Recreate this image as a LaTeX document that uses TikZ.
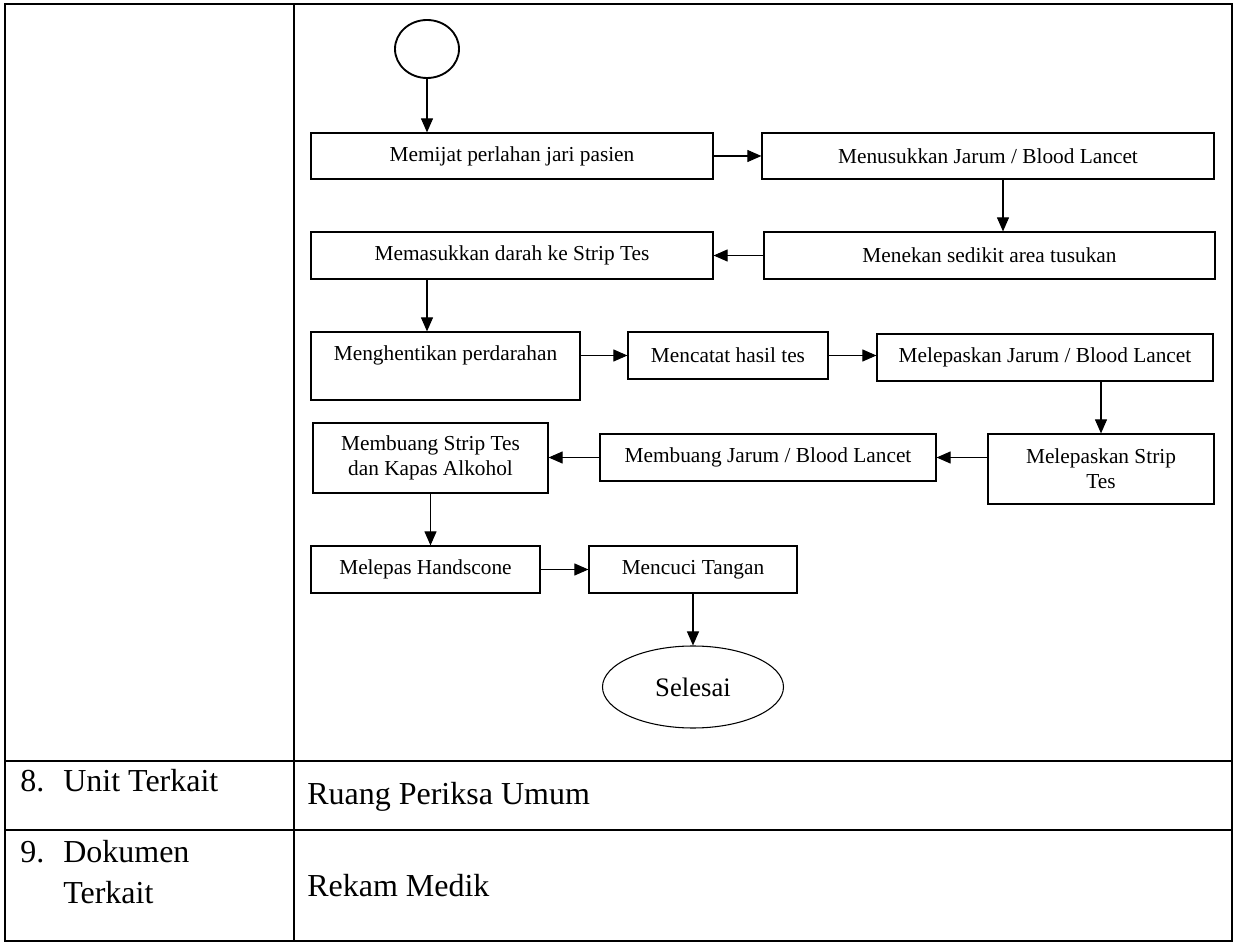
\documentclass[tikz,border=0pt]{standalone}
\usepackage{fontspec}
\setmainfont{Liberation Serif}
\usetikzlibrary{arrows.meta,calc,shapes.geometric}
\begin{document}
\begin{tikzpicture}[x=0.75pt,y=-0.75pt,
  box/.style 2 args={draw, line width=0.9pt, inner sep=0pt, align=center, minimum width=#1, minimum height=#2, font=\fontsize{16}{18.75}\selectfont},
  arr/.style={line width=0.8pt, -{Triangle[length=10.5pt,width=9pt]}},
  tbl/.style={line width=1.5pt},
  sep/.style={line width=2.2pt},
  ttext/.style={anchor=base west, inner sep=0pt, font=\fontsize{24}{30}\selectfont}
]
\useasboundingbox (0,0) rectangle (1236,944);
% table
\draw[tbl] (5,4) rectangle (1232,941);
\draw[tbl] (294,4) -- (294,941);
\draw[sep] (5,761) -- (1232,761);
\draw[sep] (5,830) -- (1232,830);

% flow nodes
\node[draw, ellipse, line width=1.4pt, minimum width=48pt, minimum height=43.5pt, inner sep=0pt] (start) at (427,49) {};
\node[box={301.5pt}{34.5pt}] (b1) at (512,156) {Memijat perlahan jari pasien};
\node[box={339pt}{34.5pt}] (b2) at (988,156) {Menusukkan Jarum / Blood Lancet};
\node[box={338.25pt}{35.25pt}] (b3) at (989.5,255.5) {Menekan sedikit area tusukan};
\node[box={301.5pt}{35.25pt}] (b4) at (512,255.5) {Memasukkan darah ke Strip Tes};
\node[box={201.75pt}{51pt}] (b5) at (445.5,366) {Menghentikan perdarahan\\ ~};
\node[box={150pt}{35.25pt}] (b6) at (728,355.5) {Mencatat hasil tes};
\node[box={252pt}{35.25pt}] (b7) at (1045,357.5) {Melepaskan Jarum / Blood Lancet};
\node[box={169.5pt}{52.5pt}] (b8) at (1101,469) {Melepaskan Strip\\Tes};
\node[box={252pt}{35.25pt}] (b9) at (768,457.5) {Membuang Jarum / Blood Lancet};
\node[box={176.25pt}{52.5pt}] (b10) at (430.5,458) {Membuang Strip Tes\\dan Kapas Alkohol};
\node[box={171.75pt}{35.25pt}] (b11) at (425.5,569.5) {Melepas Handscone};
\node[box={156pt}{35.25pt}] (b12) at (693,569.5) {Mencuci Tangan};
\node[draw, ellipse, line width=0.8pt, minimum width=135.75pt, minimum height=61.5pt, inner sep=0pt, font=\fontsize{20}{24}\selectfont] (end) at (693,687) {Selesai};

% helper coordinates
\coordinate (c23) at (1003,0);

% connectors
\draw[arr] (start.south) -- (start.south |- b1.north);
\draw[arr] (b1.east) -- (b2.west);
\draw[arr] (b2.south -| c23) -- (b3.north -| c23);
\draw[arr] (b3.west) -- (b4.east);
\draw[arr] (b4.south -| start) -- (b5.north -| start);
\draw[arr] (b5.east |- b6.west) -- (b6.west);
\draw[arr] (b6.east) -- (b7.west |- b6.east);
\draw[arr] (b8.north |- b7.south) -- (b8.north);
\draw[arr] (b8.west |- b9.east) -- (b9.east);
\draw[arr] (b9.west) -- (b10.east |- b9.west);
\draw[arr] (b10.south) -- (b11.north -| b10.south);
\draw[arr] (b11.east) -- (b12.west);
\draw[arr] (b12.south) -- (end.north);

% table texts
\node[ttext] (n8) at (20,791) {8.};
\node[ttext] (u8) at (63,791) {Unit Terkait};
\node[ttext] (r8) at (307,804) {Ruang Periksa Umum};
\node[ttext] (n9) at (20,862) {9.};
\node[ttext] (d9) at (63,862) {Dokumen};
\node[ttext] (t9) at (63,903) {Terkait};
\node[ttext] (r9) at (307,896) {Rekam Medik};
\end{tikzpicture}
\end{document}
